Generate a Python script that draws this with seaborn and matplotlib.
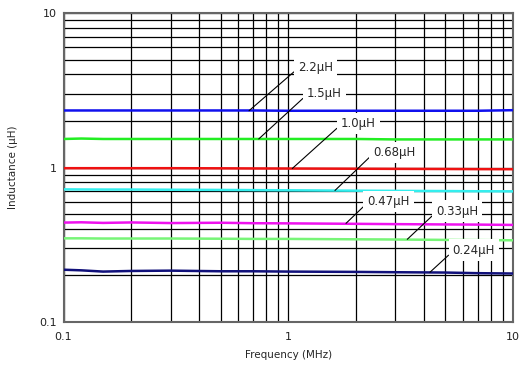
import seaborn as sns
import matplotlib.pyplot as plt
import pandas as pd

freq = [0.1, 0.12, 0.15, 0.2, 0.3, 0.5, 0.7, 1, 2, 3, 5, 7, 10]

series = {
    '2.2μH': [2.34, 2.34, 2.34, 2.34, 2.34, 2.34, 2.34, 2.33, 2.33, 2.33, 2.33, 2.33, 2.35],
    '1.5μH': [1.53, 1.54, 1.53, 1.53, 1.53, 1.53, 1.53, 1.53, 1.53, 1.52, 1.52, 1.52, 1.52],
    '1.0μH': [0.99, 0.99, 0.99, 0.99, 0.99, 0.988, 0.986, 0.985, 0.982, 0.98, 0.978, 0.976, 0.975],
    '0.68μH': [0.722, 0.721, 0.72, 0.72, 0.718, 0.716, 0.714, 0.712, 0.708, 0.706, 0.704, 0.702, 0.701],
    '0.47μH': [0.44, 0.442, 0.438, 0.441, 0.437, 0.439, 0.436, 0.435, 0.432, 0.43, 0.428, 0.427, 0.425],
    '0.33μH': [0.348, 0.348, 0.347, 0.347, 0.347, 0.346, 0.345, 0.345, 0.343, 0.342, 0.34, 0.339, 0.338],
    '0.24μH': [0.218, 0.216, 0.212, 0.214, 0.215, 0.213, 0.213, 0.212, 0.211, 0.21, 0.209, 0.207, 0.206],
}

colors = {
    '2.2μH': '#1010ee',
    '1.5μH': '#22ee22',
    '1.0μH': '#ee1111',
    '0.68μH': '#33eeee',
    '0.47μH': '#ee11ee',
    '0.33μH': '#77f577',
    '0.24μH': '#10107a',
}

# leader-line end point on the curve
label_xy = {
    '2.2μH': (0.669, 2.33),
    '1.5μH': (0.739, 1.53),
    '1.0μH': (1.042, 0.985),
    '0.68μH': (1.614, 0.71),
    '0.47μH': (1.807, 0.435),
    '0.33μH': (3.386, 0.343),
    '0.24μH': (4.272, 0.21),
}
# label text position
label_text = {
    '2.2μH': (1.105, 4.47),
    '1.5μH': (1.212, 3.02),
    '1.0μH': (1.717, 1.932),
    '0.68μH': (2.39, 1.254),
    '0.47μH': (2.247, 0.601),
    '0.33μH': (4.544, 0.523),
    '0.24μH': (5.39, 0.292),
}

rows = []
for name, vals in series.items():
    for f, v in zip(freq, vals):
        rows.append({'freq': f, 'L': v, 'part': name})
df = pd.DataFrame(rows)

sns.set_style('white')
plt.rcParams['font.family'] = ['DejaVu Sans']

fig = plt.figure(figsize=(5.27, 3.72), dpi=100)
ax = fig.add_axes([0.1205, 0.1344, 0.8529, 0.8306])

sns.lineplot(data=df, x='freq', y='L', hue='part', palette=colors,
             legend=False, linewidth=1.8, ax=ax, zorder=3)

ax.set_xscale('log')
ax.set_yscale('log')
ax.set_xlim(0.1, 10)
ax.set_ylim(0.1, 10)
ax.set_xticks([0.1, 1, 10])
ax.set_xticklabels(['0.1', '1', '10'])
ax.set_yticks([0.1, 1, 10])
ax.set_yticklabels(['0.1', '1', '10'])
ax.tick_params(which='both', length=0, labelsize=8, colors='#222222')
ax.tick_params(axis='x', pad=7)
ax.tick_params(axis='y', pad=5)
ax.grid(which='both', color='black', linewidth=0.9, zorder=1)
ax.set_axisbelow(True)
for sp in ax.spines.values():
    sp.set_color('#666666')
    sp.set_linewidth(1.5)

ax.set_xlabel('Frequency (MHz)', fontsize=7.5, labelpad=6)
ax.set_ylabel('Inductance (μH)', fontsize=7.5, labelpad=15)

for name in series:
    ax.annotate(name, xy=label_xy[name], xytext=label_text[name],
                ha='left', va='center', fontsize=8.5, zorder=5,
                bbox=dict(boxstyle='square,pad=0.35', fc='white', ec='none'),
                arrowprops=dict(arrowstyle='-', color='black', lw=0.8,
                                shrinkA=0, shrinkB=0, relpos=(0, 0.4)))

fig.savefig('out.png', dpi=100)
